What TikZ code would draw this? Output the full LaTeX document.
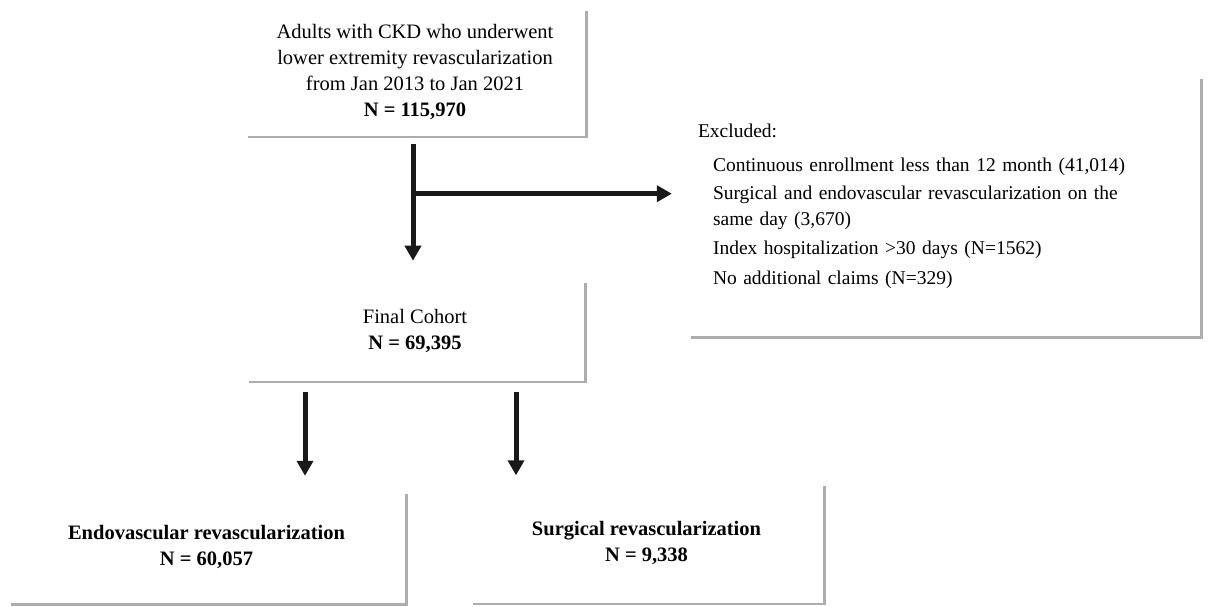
\documentclass[tikz,border=0pt]{standalone}
\usepackage{fontspec}
\setmainfont{Liberation Serif}
\usepackage{tikz}
\usetikzlibrary{arrows.meta, positioning, shadows}

\begin{document}
\begin{tikzpicture}[
        x=1pt, y=-1pt,
        font=\fontsize{20.5}{26}\selectfont,
        box/.style={rectangle, fill=white, inner sep=10pt, align=center,
            drop shadow={shadow xshift=2.5pt, shadow yshift=-2.5pt, fill=black!40, opacity=.8}},
        arrow/.style={-{Triangle[width=16pt, length=15pt]}, line width=5pt, black!90}
    ]
        \useasboundingbox (0,0) rectangle (1210,606);

        % Source population
        \node (ui) [box, minimum width=340pt, minimum height=127pt] at (415,72)
            {Adults with CKD who underwent \\ lower extremity revascularization \\ from Jan 2013 to Jan 2021 \\ \textbf{N = 115,970}};

        % Final cohort
        \node (final) [box, minimum width=338pt, minimum height=100pt, below=145pt of ui]
            {Final Cohort \\ \textbf{N = 69,395}};

        % Exclusions
        \node (excl) [box, minimum width=512pt, minimum height=260pt, text width=492pt, align=left,
            font=\fontsize{19.5}{26}\selectfont] at (944,206)
            {Excluded:\\[8pt]
             \hspace*{15pt}Continuous enrollment less than 12 month (41,014)\\[2pt]
             \hspace*{15pt}Surgical and endovascular revascularization on the\\
             \hspace*{15pt}same day (3,670)\\[3pt]
             \hspace*{15pt}Index hospitalization >30 days (N=1562)\\[4pt]
             \hspace*{15pt}No additional claims (N=329)};

        % Treatment groups
        \node (endo) [box, minimum width=397pt, minimum height=112pt] at (206.5,547)
            {\textbf{Endovascular revascularization} \\ \textbf{N = 60,057}};
        \node (surg) [box, minimum width=353pt, minimum height=119pt] at (646.5,543)
            {\textbf{Surgical revascularization} \\ \textbf{N = 9,338}};

        % Connections
        \coordinate (branch) at ([xshift=-2pt, yshift=-58pt]ui.south);
        \draw [arrow, shorten <=8pt, shorten >=20pt] ([xshift=-2pt]ui.south) -- ([xshift=-2pt]final.north);
        \draw [arrow, shorten <=-2.5pt, shorten >=16pt] (branch) -- (branch -| excl.west);
        \draw [arrow, shorten <=11pt, shorten >=15pt] ([xshift=-110pt]final.south) -- ([xshift=-110pt]final.south |- endo.north);
        \draw [arrow, shorten <=11pt, shorten >=8pt] ([xshift=101pt]final.south) -- ([xshift=101pt]final.south |- surg.north);
    \end{tikzpicture}
\end{document}
